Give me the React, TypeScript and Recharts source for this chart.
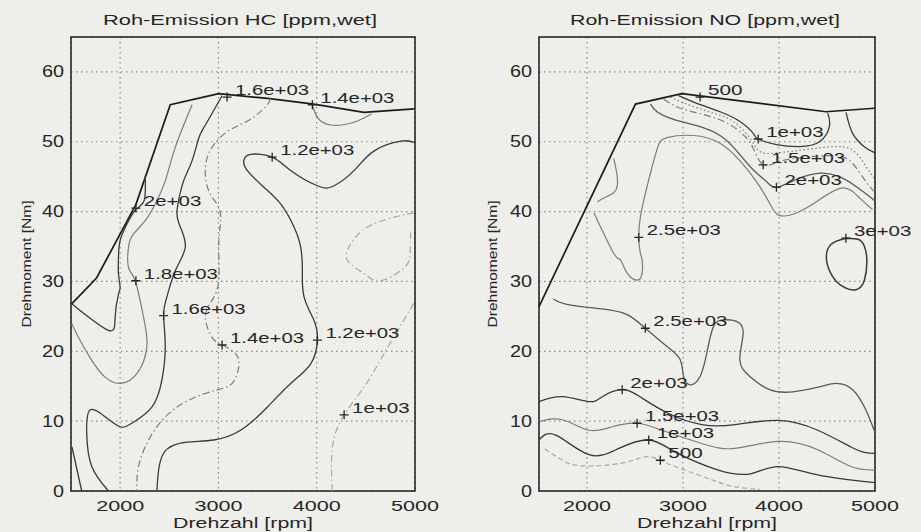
import { ComposedChart, Line, Scatter, XAxis, YAxis, CartesianGrid, ReferenceArea } from 'recharts';

// contour lines, [rpm, Nm]
const hcBoundary = [[1507, 26.8], [1760, 30.5], [2160, 41], [2510, 55.3], [3003, 56.9], [3500, 56.2], [3970, 55.4], [4480, 54.2], [4990, 54.7]];
const hc2000 = [[2255, 45.1], [2245, 41.6], [2160, 40.3], [2068, 38.2], [2000, 35.9], [1983, 33.5], [1983, 31.1], [2000, 29.2], [1983, 28.2], [1949, 24.9], [1881, 23], [1507, 26.8]];
const hc1800 = [[2732, 55.3], [2561, 49.2], [2459, 44.4], [2357, 41.1], [2255, 38.7], [2136, 36.8], [2085, 34.9], [2085, 32], [2153, 30.1], [2238, 24.9], [2272, 20.6], [2170, 16.8], [2000, 15.4], [1847, 16.3], [1711, 18.7], [1575, 22], [1507, 24]];
const hc1600 = [[3037, 56.6], [2867, 52.4], [2799, 50.5], [2732, 47.3], [2646, 44.4], [2595, 41.6], [2578, 39.7], [2612, 37.8], [2663, 34.9], [2560, 31.5], [2470, 27.5], [2442, 25.1], [2459, 20.6], [2425, 15.9], [2323, 12], [2119, 9.7], [2000, 9.2], [1850, 10.6], [1694, 11.6], [1660, 8.2], [1711, 3.5], [1881, 0]];
const hc1400 = [[3530, 56.2], [3480, 55], [3300, 53], [3105, 51.6], [2935, 49.2], [2867, 46.3], [2901, 43], [3003, 40.6], [3020, 38.2], [3003, 34.9], [3003, 30.1], [2935, 27.3], [2867, 24.9], [2935, 22], [3037, 20.9], [3173, 19.7], [3207, 17.8], [3139, 15.4], [2969, 14.4], [2697, 13], [2459, 10.6], [2289, 7.3], [2187, 3.5], [2170, 0]];
const hc1400b = [[3956, 55.3], [4007, 53.5], [4143, 52.4], [4381, 52.8], [4560, 54.0]];
const hc1200 = [[2374, 0], [2442, 5.4], [2680, 7], [2952, 7.3], [3225, 8.7], [3497, 12], [3735, 15.4], [3939, 18.2], [4007, 21.6], [3973, 24.4], [3871, 27.8], [3854, 31.6], [3837, 34.9], [3769, 37.8], [3633, 41.1], [3462, 43.5], [3292, 45.9], [3258, 47.3], [3327, 48.2], [3547, 47.8], [3735, 45.9], [4007, 43.7], [4177, 43.7], [4381, 45.9], [4585, 48.7], [4857, 50.1], [4993, 49.9]];
const hc1000 = [[4160, 0], [4160, 6.3], [4279, 10.9], [4483, 14.9], [4687, 19.7], [4925, 25.4], [4995, 27]];
const hcLoop = [[4990, 39.8], [4942, 39.7], [4789, 39.2], [4517, 37.8], [4347, 35.4], [4313, 33], [4483, 31.1], [4653, 30.1], [4891, 32], [4950, 34], [4955, 37]];
const hcCorner = [[1510, 6.3], [1609, 0]];

const hcLabels = [
  { x: 3088, y: 56.4, label: '1.6e+03' },
  { x: 3956, y: 55.3, label: '1.4e+03' },
  { x: 3547, y: 47.8, label: '1.2e+03' },
  { x: 2160, y: 40.5, label: '2e+03' },
  { x: 2160, y: 30.1, label: '1.8e+03' },
  { x: 2442, y: 25.1, label: '1.6e+03' },
  { x: 3037, y: 20.9, label: '1.4e+03' },
  { x: 4007, y: 21.6, label: '1.2e+03' },
  { x: 4279, y: 10.9, label: '1e+03' },
];

const noBoundary = [[1500, 26.4], [2505, 55.4], [2989, 56.9], [4491, 54.3], [4990, 54.8]];
const no1000 = [[2954, 56.6], [3144, 55.5], [3386, 54.3], [3593, 52.9], [3731, 51.2], [3783, 50.4], [3973, 49.6], [4215, 49.3], [4422, 50.0], [4525, 52.2], [4508, 54.1]];
const noDotted = [[2868, 56.4], [3075, 55.2], [3317, 54.1], [3524, 52.9], [3697, 50.5], [3800, 48.6], [3973, 48.4], [4284, 48.9], [4560, 49.3], [4767, 48.8], [4905, 46.5], [4992, 44.8]];
const no1500 = [[2799, 56.1], [2972, 54.8], [3213, 53.9], [3455, 52.7], [3628, 51.0], [3731, 49.1], [3835, 46.7], [4007, 47.2], [4284, 47.8], [4594, 48.0], [4767, 46.9], [4905, 44.3], [4992, 42.9]];
const no2000 = [[2661, 55.4], [2730, 54.3], [2902, 53.2], [3144, 52.3], [3386, 50.9], [3559, 48.7], [3731, 46.0], [3869, 44.3], [3973, 43.5], [4180, 44.6], [4422, 45.5], [4629, 45.0], [4802, 43.6], [4940, 42.2], [4992, 41.6]];
const no2500Top = [[2073, 39.8], [2280, 34.0], [2349, 33.1], [2419, 31.2], [2522, 30.2], [2574, 31.2], [2574, 33.1], [2557, 34.0], [2539, 36.2], [2557, 39.3], [2626, 43.6], [2729, 48.9], [2833, 50.6], [3109, 50.9], [3385, 49.8], [3592, 47.3], [3765, 44.3], [3903, 41.2], [3997, 39.5], [4180, 39.8], [4421, 41.7], [4663, 43.4], [4836, 42.0], [4974, 40.3]];
const noSmall = [[2108, 41.4], [2212, 42.2], [2315, 43.6], [2290, 46.9], [2275, 47.5]];
const noRight = [[4698, 54.2], [4767, 51.2], [4888, 49.3], [4974, 48.6], [5000, 48.4]];
const no3000 = [[4697, 36.2], [4830, 36.0], [4890, 35.0], [4915, 33.1], [4890, 30.2], [4801, 28.8], [4663, 29.3], [4559, 30.7], [4495, 33.1], [4540, 35.3], [4697, 36.2]];
const no2500Low = [[1650, 27.5], [1831, 26.6], [2246, 25.9], [2453, 25.0], [2608, 23.3], [2833, 20.7], [2971, 18.8], [3006, 16.4], [3075, 15.2], [3178, 16.4], [3247, 19.7], [3316, 23.5], [3420, 24.5], [3558, 24.3], [3627, 22.6], [3592, 18.8], [3696, 16.4], [3903, 14.5], [4145, 14.2], [4421, 14.9], [4594, 15.4], [4767, 14.5], [4905, 11.6], [4991, 8.7]];
const no2000Low = [[1500, 12.8], [1745, 13.5], [2021, 12.8], [2160, 13.5], [2367, 14.5], [2574, 13.3], [2850, 11.1], [3196, 9.5], [3541, 9.5], [3990, 10.1], [4404, 8.7], [4749, 6.3], [4900, 5.5], [5000, 5.4]];
const no1500Low = [[1500, 9.9], [1745, 10.2], [2021, 8.7], [2263, 9.2], [2522, 9.7], [2781, 8.7], [3196, 6.8], [3541, 6.1], [3990, 7.1], [4404, 5.9], [4749, 3.5], [5000, 3.0]];
const no1000Low = [[1500, 7.3], [1676, 8.0], [2021, 5.2], [2332, 6.1], [2643, 7.3], [2919, 5.6], [3368, 3.0], [3714, 2.5], [3990, 3.5], [4404, 2.3], [5000, 1.2]];
const no500Low = [[1560, 6.0], [1745, 4.4], [1950, 3.6], [2367, 4.0], [2608, 4.9], [2764, 4.4], [2919, 3.5], [3299, 1.6], [3541, 0.6], [3800, 0.2]];

const noLabels = [
  { x: 3178, y: 56.4, label: '500' },
  { x: 3783, y: 50.4, label: '1e+03' },
  { x: 3835, y: 46.7, label: '1.5e+03' },
  { x: 3973, y: 43.5, label: '2e+03' },
  { x: 2539, y: 36.3, label: '2.5e+03' },
  { x: 4697, y: 36.2, label: '3e+03' },
  { x: 2608, y: 23.3, label: '2.5e+03' },
  { x: 2367, y: 14.5, label: '2e+03' },
  { x: 2522, y: 9.7, label: '1.5e+03' },
  { x: 2643, y: 7.3, label: '1e+03' },
  { x: 2764, y: 4.4, label: '500' },
];

const xTicks = [2000, 3000, 4000, 5000];
const yTicks = [0, 10, 20, 30, 40, 50, 60];

const BG = '#eeeeea';
const INK = '#262626';
const DARK = '#3a3a3a';
const MID = '#5a5a5a';
const GRAY = '#7c7c7c';
const LIGHT = '#a8a8a8';
const DASHDOT = '7 3 1.5 3';
const DOTTED = '1.5 2.5';
const DASHED = '5 3';
const FONT = '"Liberation Sans", Arial, sans-serif';

const hcSeries = [
  { pts: hcBoundary, color: '#1c1c1c', w: 1.7, curve: 'linear' },
  { pts: hc2000, color: DARK, w: 1.3 },
  { pts: hc1800, color: GRAY, w: 1.2 },
  { pts: hc1600, color: DARK, w: 1.3 },
  { pts: hc1400, color: GRAY, w: 1.2, dash: DASHDOT },
  { pts: hc1400b, color: GRAY, w: 1.2 },
  { pts: hc1200, color: DARK, w: 1.3 },
  { pts: hc1000, color: LIGHT, w: 1.2, dash: DASHDOT },
  { pts: hcLoop, color: LIGHT, w: 1.2, dash: DASHDOT },
  { pts: hcCorner, color: DARK, w: 1.3 },
];

const noSeries = [
  { pts: noBoundary, color: '#1c1c1c', w: 1.7, curve: 'linear' },
  { pts: no1000, color: DARK, w: 1.3 },
  { pts: noDotted, color: GRAY, w: 1.2, dash: DOTTED },
  { pts: no1500, color: GRAY, w: 1.2, dash: DASHDOT },
  { pts: no2000, color: MID, w: 1.3 },
  { pts: no2500Top, color: GRAY, w: 1.2 },
  { pts: noSmall, color: GRAY, w: 1.2 },
  { pts: noRight, color: DARK, w: 1.3 },
  { pts: no3000, color: DARK, w: 1.5 },
  { pts: no2500Low, color: MID, w: 1.3 },
  { pts: no2000Low, color: DARK, w: 1.3 },
  { pts: no1500Low, color: GRAY, w: 1.2 },
  { pts: no1000Low, color: DARK, w: 1.3 },
  { pts: no500Low, color: LIGHT, w: 1.2, dash: DASHED },
];

const textWidth = (s: string) => [...s].reduce((a, c) => a + (c === '.' ? 5 : 11.5), 0);

function XTick(props: any) {
  const { x, y, payload } = props;
  const s = String(payload.value);
  return (
    <text x={x} y={y + 12} textAnchor="middle" fontFamily={FONT} fontSize={15} fill={INK}
      textLength={s.length * 12} lengthAdjust="spacingAndGlyphs">{s}</text>
  );
}

function YTick(props: any) {
  const { x, y, payload } = props;
  const s = String(payload.value);
  return (
    <text x={x + 1} y={y + 5.5} textAnchor="end" fontFamily={FONT} fontSize={16} fill={INK}
      textLength={s.length * 11} lengthAdjust="spacingAndGlyphs">{s}</text>
  );
}

function Mark(props: any) {
  const { cx, cy, payload } = props;
  const s = payload.label;
  return (
    <g>
      <path d={`M${cx - 4.5},${cy}H${cx + 4.5}M${cx},${cy - 4.5}V${cy + 4.5}`} stroke={INK} strokeWidth={1.3} />
      <text x={cx + 8} y={cy - 2} fontFamily={FONT} fontSize={15} fill={INK}
        textLength={textWidth(s)} lengthAdjust="spacingAndGlyphs">{s}</text>
    </g>
  );
}

function Panel({ left, width, margin, series, labels }: any) {
  return (
    <div style={{ position: 'absolute', left, top: 0 }}>
      <ComposedChart width={width} height={532} margin={margin}>
        <CartesianGrid stroke="#8a8a8a" strokeWidth={1.2} strokeDasharray="1.5 3.5" />
        <XAxis type="number" dataKey="x" domain={[1500, 5000]} ticks={xTicks} height={30}
          axisLine={false} tickLine={false} tick={<XTick />} />
        <YAxis type="number" dataKey="y" domain={[0, 65]} ticks={yTicks} width={40}
          axisLine={false} tickLine={false} tick={<YTick />} />
        <ReferenceArea x1={1500} x2={5000} y1={0} y2={65} fill="none" fillOpacity={0}
          stroke="#1c1c1c" strokeWidth={1.5} ifOverflow="visible" />
        {series.map((s: any, i: number) => (
          <Line key={i} data={s.pts.map(([x, y]: number[]) => ({ x, y }))} dataKey="y"
            type={s.curve || 'natural'} stroke={s.color} strokeWidth={s.w}
            strokeDasharray={s.dash} dot={false} activeDot={false}
            isAnimationActive={false} legendType="none" />
        ))}
        <Scatter data={labels} dataKey="y" shape={Mark} isAnimationActive={false} legendType="none" />
      </ComposedChart>
    </div>
  );
}

export default function App() {
  return (
    <div style={{ position: 'absolute', left: 0, top: 0, width: 921, height: 532, background: BG, overflow: 'hidden' }}>
      <Panel left={0} width={460} margin={{ top: 37, right: 45, bottom: 11, left: 31 }}
        series={hcSeries} labels={hcLabels} />
      <Panel left={460} width={461} margin={{ top: 37, right: 46, bottom: 11, left: 39 }}
        series={noSeries} labels={noLabels} />
      <svg width={921} height={532} style={{ position: 'absolute', left: 0, top: 0, pointerEvents: 'none' }}
        fontFamily={FONT} fill={INK}>
        <text x={240} y={25} fontSize={14.5} textAnchor="middle" textLength={274} lengthAdjust="spacingAndGlyphs">
          Roh-Emission HC [ppm,wet]
        </text>
        <text x={705} y={25} fontSize={14.5} textAnchor="middle" textLength={270} lengthAdjust="spacingAndGlyphs">
          Roh-Emission NO [ppm,wet]
        </text>
        <text x={243} y={528} fontSize={14} textAnchor="middle" textLength={140} lengthAdjust="spacingAndGlyphs">
          Drehzahl [rpm]
        </text>
        <text x={707} y={528} fontSize={14} textAnchor="middle" textLength={140} lengthAdjust="spacingAndGlyphs">
          Drehzahl [rpm]
        </text>
        <text transform="translate(31,264) rotate(-90)" fontSize={13.5} textAnchor="middle" textLength={127} lengthAdjust="spacingAndGlyphs">
          Drehmoment [Nm]
        </text>
        <text transform="translate(497,264) rotate(-90)" fontSize={13.5} textAnchor="middle" textLength={127} lengthAdjust="spacingAndGlyphs">
          Drehmoment [Nm]
        </text>
      </svg>
    </div>
  );
}
